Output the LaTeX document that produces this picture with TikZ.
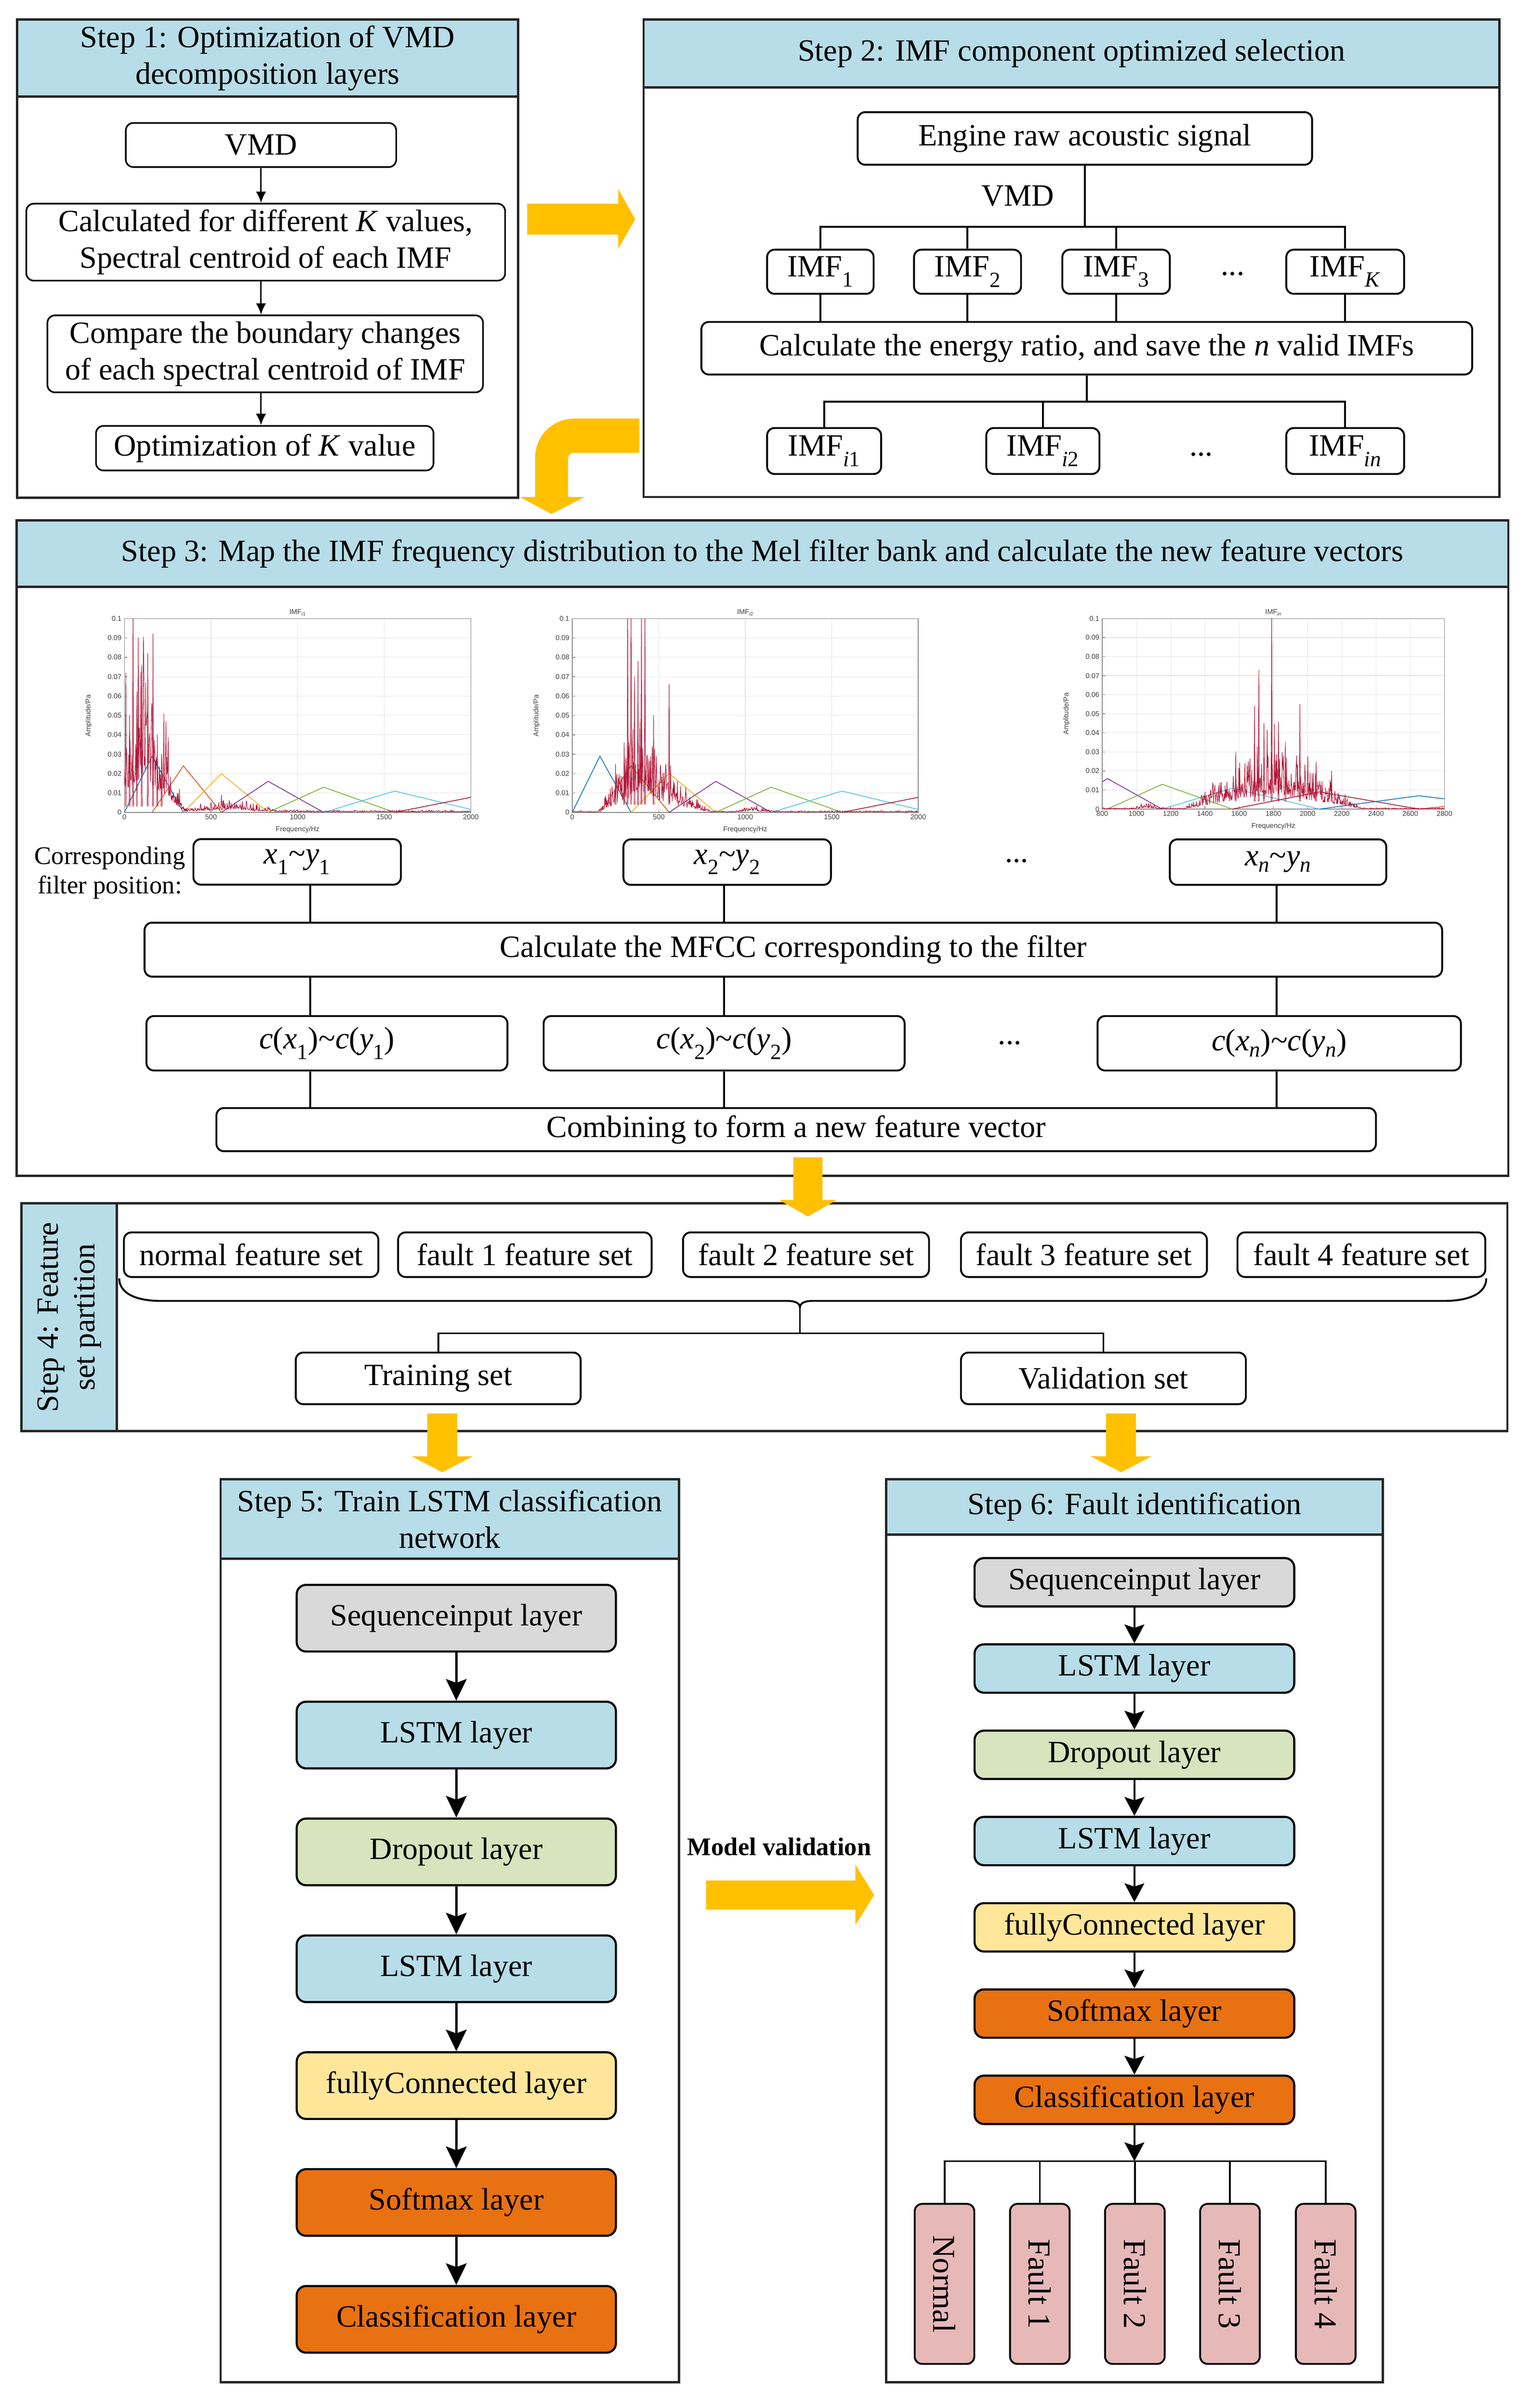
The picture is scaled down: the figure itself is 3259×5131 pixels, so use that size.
\documentclass[tikz,border=0pt]{standalone}
\usepackage{fontspec}
\setmainfont{Liberation Serif}
\newfontfamily\plotfont{Liberation Sans}
\usetikzlibrary{arrows.meta}
\definecolor{hdrblue}{RGB}{183,221,232}
\definecolor{seqgray}{RGB}{217,217,217}
\definecolor{dropgreen}{RGB}{215,228,189}
\definecolor{fcyellow}{RGB}{255,230,153}
\definecolor{smorange}{RGB}{232,113,18}
\definecolor{faultpink}{RGB}{230,185,184}
\definecolor{arrowyellow}{RGB}{255,192,0}
\definecolor{mlA}{rgb}{0,0.447,0.741}
\definecolor{mlB}{rgb}{0.85,0.325,0.098}
\definecolor{mlC}{rgb}{0.929,0.694,0.125}
\definecolor{mlD}{rgb}{0.494,0.184,0.556}
\definecolor{mlE}{rgb}{0.466,0.674,0.188}
\definecolor{mlF}{rgb}{0.301,0.745,0.933}
\definecolor{mlG}{rgb}{0.635,0.078,0.184}
\definecolor{specred}{RGB}{178,24,58}
\newcommand\fsmain{\fontsize{66}{78}\selectfont}
\newcommand\fssmall{\fontsize{54}{63}\selectfont}
\newcommand\fsbold{\fontsize{54}{63}\selectfont\bfseries}
\newcommand\fsfault{\fontsize{68}{80}\selectfont}
\newcommand\fstick{\plotfont\fontsize{15}{17}\selectfont}
\newcommand\mysub[1]{\textsubscript{#1}}
\tikzset{
  stepframe/.style={draw=black!85, line width=5pt, fill=white},
  hdr/.style={draw=black!85, line width=5pt, fill=hdrblue, inner sep=0pt, align=center, font=\fsmain},
  boxS/.style={draw=black, line width=4pt, rounded corners=16pt, fill=white, inner sep=0pt, align=center, font=\fsmain},
  layerbox/.style={boxS, line width=4.5pt, rounded corners=20pt},
  faultbox/.style={boxS, fill=faultpink, font=\fsfault, rotate=-90, minimum width=341pt, minimum height=127pt},
  plaintext/.style={inner sep=0pt, align=center, font=\fsmain},
  conn/.style={draw=black, line width=4pt},
  smallarr/.style={draw=black, line width=3pt, -{Latex[length=24pt,width=22pt]}},
  bigarr/.style={draw=black, line width=5pt, -{Stealth[length=46pt,width=44pt,inset=8pt]}},
  midarr/.style={draw=black, line width=4.5pt, -{Stealth[length=40pt,width=42pt,inset=7pt]}},
  yarrow/.style={fill=arrowyellow, draw=none},
  gridl/.style={draw=black!10, line width=1.2pt},
  axisl/.style={draw=black!45, line width=1.5pt},
  ticklab/.style={font=\fstick, text=black!75, inner sep=1pt},
  fl/.style={line width=1.6pt},
  spec/.style={draw=specred, line width=1.1pt, line join=round},
}
\newcommand\drawplot[8]{%
  \pgfmathsetmacro\pxs{(#2-#1)/(#6-#5)}%
  \foreach \k in {1,...,9}{%
    \pgfmathsetmacro\yy{#4-(#4-#3)*\k/10}%
    \draw[gridl] (#1,\yy) -- (#2,\yy);
  }%
  \foreach \f in {#7}{%
    \pgfmathsetmacro\xx{#1+(\f-#5)*\pxs}%
    \draw[gridl] (\xx,#3) -- (\xx,#4);
    \draw[axisl] (\xx,#4) -- (\xx,#4-6);
    \node[ticklab, anchor=north] at (\xx,#4+3) {\f};
  }%
  \foreach \k in {0,...,10}{%
    \pgfmathsetmacro\yy{#4-(#4-#3)*\k/10}%
    \draw[axisl] (#1,\yy) -- (#1+6,\yy);
    \node[ticklab, anchor=east] at (#1-5,\yy) {\ifnum\k=0 0\else\ifnum\k=10 0.1\else 0.0\k\fi\fi};
  }%
  \draw[axisl] (#1,#3) rectangle (#2,#4);
  \node[ticklab] at ({(#1+#2)/2},#3-13) {#8};
  \node[ticklab] at ({(#1+#2)/2},#4+37) {Frequency/Hz};
  \node[ticklab, rotate=90] at (#1-76,{(#3+#4)/2}) {Amplitude/Pa};
}
\begin{document}
\begin{tikzpicture}[x=1pt,y=-1pt]
\useasboundingbox (0,0) rectangle (3259,5131);
\fill[white] (0,0) rectangle (3259,5131);

% ---------------- Step 1
\draw[stepframe] (36,42) rectangle (1104,1061);
\node[hdr, minimum width=1068pt, minimum height=164pt] (h1) at (570,124) {Step 1: Optimization of VMD\\decomposition layers};
\node[boxS, line width=3.5pt, minimum width=576pt, minimum height=94pt] (vmd1) at (556,309) {VMD};
\node[boxS, line width=3.5pt, minimum width=1020pt, minimum height=164pt] (calc1) at (566,516) {Calculated for different \textit{K} values,\\Spectral centroid of each IMF};
\node[boxS, line width=3.5pt, minimum width=928pt, minimum height=164pt] (comp1) at (565,754) {Compare the boundary changes\\of each spectral centroid of IMF};
\node[boxS, line width=3.5pt, minimum width=719pt, minimum height=95pt] (optk) at (564,955) {Optimization of \textit{K} value};
\draw[smallarr] (vmd1.south) -- (vmd1.south |- calc1.north);
\draw[smallarr] (vmd1.south |- calc1.south) -- (vmd1.south |- comp1.north);
\draw[smallarr] (vmd1.south |- comp1.south) -- (vmd1.south |- optk.north);

% ---------------- Step 2
\draw[stepframe] (1371,42) rectangle (3194,1059);
\node[hdr, minimum width=1823pt, minimum height=144pt] (h2) at (2282.5,114) {Step 2: IMF component optimized selection};
\node[boxS, minimum width=968pt, minimum height=112pt] (engine) at (2311,295) {Engine raw acoustic signal};
\node[plaintext] (vmdlab) at (2168,418) {VMD};
\node[boxS, minimum width=227pt, minimum height=94pt] (imf1) at (1747.5,579) {IMF\mysub{1}};
\node[boxS, minimum width=228pt, minimum height=94pt] (imf2) at (2061,579) {IMF\mysub{2}};
\node[boxS, minimum width=229pt, minimum height=94pt] (imf3) at (2377.5,579) {IMF\mysub{3}};
\node[plaintext] (dotsA) at (2626,583) {...};
\node[boxS, minimum width=251pt, minimum height=94pt] (imfK) at (2865.5,579) {IMF\mysub{\textit{K}}};
\node[boxS, minimum width=1642pt, minimum height=112pt] (calcE) at (2315,742) {Calculate the energy ratio, and save the \textit{n} valid IMFs};
\node[boxS, minimum width=243pt, minimum height=98pt] (imfi1) at (1755.5,961) {IMF\mysub{\textit{i}1}};
\node[boxS, minimum width=241pt, minimum height=98pt] (imfi2) at (2221.5,961) {IMF\mysub{\textit{i}2}};
\node[plaintext] (dotsB) at (2559,968) {...};
\node[boxS, minimum width=251pt, minimum height=98pt] (imfin) at (2865.5,961) {IMF\mysub{\textit{in}}};
\coordinate (busA) at (2311,483);
\draw[conn] (engine.south) -- (busA);
\draw[conn] (imf1.north) |- (busA) -| (imfK.north);
\draw[conn] (imf2.north) -- (imf2.north |- busA);
\draw[conn] (imf3.north) -- (imf3.north |- busA);
\foreach \n in {imf1,imf2,imf3,imfK} \draw[conn] (\n.south) -- (\n.south |- calcE.north);
\coordinate (busB) at (2315,856);
\draw[conn] (calcE.south) -- (busB);
\draw[conn] (imfi1.north) |- (busB) -| (imfin.north);
\draw[conn] (imfi2.north) -- (imfi2.north |- busB);

% ---------------- Step 3
\draw[stepframe] (35,1109) rectangle (3213,2505);
\node[hdr, minimum width=3178pt, minimum height=141pt] (h3) at (1624,1179.5) {Step 3: Map the IMF frequency distribution to the Mel filter bank and calculate the new feature vectors};

% plot 1
\drawplot{265}{1003}{1318}{1731}{0}{2000}{0,500,1000,1500,2000}{IMF\textsubscript{\textit{i}1}}
\begin{scope}
  \clip (265,1318) rectangle (1003,1731);
  \begin{scope}[shift={(265,1731)}, xscale=0.369, yscale=-4130]
    \draw[mlA, fl] (0,0) -- (160,0.029) -- (340,0);
    \draw[mlB, fl] (160,0) -- (340,0.024) -- (560,0);
    \draw[mlC, fl] (340,0) -- (560,0.020) -- (830,0);
    \draw[mlD, fl] (560,0) -- (830,0.016) -- (1150,0);
    \draw[mlE, fl] (830,0) -- (1150,0.013) -- (1560,0);
    \draw[mlF, fl] (1150,0) -- (1560,0.011) -- (2070,0);
    \draw[mlG, fl] (1560,0) -- (2070,0.009) -- (2650,0);
    \pgfmathsetseed{11}
    \draw[spec] plot[domain=0:2000, samples=800] (\x, {min(0.1,(0.06*max(0,1-abs(\x-110)/240)+0.004*max(0,1-abs(\x-600)/300)+0.0008)*(0.3+1.5*rnd*rnd))});
    \foreach \f/\a in {8/0.072, 30/0.05, 50/0.11, 72/0.055, 100/0.076, 135/0.082, 165/0.092, 190/0.04, 215/0.03, 560/0.009}
      \draw[spec] (\f-3,0.003) -- (\f,\a) -- (\f+3,0.003);
  \end{scope}
\end{scope}

% plot 2
\drawplot{1219}{1956}{1318}{1731}{0}{2000}{0,500,1000,1500,2000}{IMF\textsubscript{\textit{i}2}}
\begin{scope}
  \clip (1219,1318) rectangle (1956,1731);
  \begin{scope}[shift={(1219,1731)}, xscale=0.3685, yscale=-4130]
    \draw[mlA, fl] (0,0) -- (160,0.029) -- (340,0);
    \draw[mlB, fl] (160,0) -- (340,0.024) -- (560,0);
    \draw[mlC, fl] (340,0) -- (560,0.020) -- (830,0);
    \draw[mlD, fl] (560,0) -- (830,0.016) -- (1150,0);
    \draw[mlE, fl] (830,0) -- (1150,0.013) -- (1560,0);
    \draw[mlF, fl] (1150,0) -- (1560,0.011) -- (2070,0);
    \draw[mlG, fl] (1560,0) -- (2070,0.009) -- (2650,0);
    \pgfmathsetseed{23}
    \draw[spec] plot[domain=0:2000, samples=800] (\x, {min(0.1,(0.035*max(0,1-abs(\x-400)/250)+0.008*max(0,1-abs(\x-650)/150)+0.002*max(0,1-abs(\x-1050)/120)+0.0006)*(0.3+1.5*rnd*rnd))});
    \foreach \f/\a in {250/0.025, 300/0.036, 320/0.11, 340/0.11, 360/0.07, 380/0.078, 400/0.11, 420/0.11, 470/0.05, 560/0.066}
      \draw[spec] (\f-3,0.004) -- (\f,\a) -- (\f+3,0.004);
  \end{scope}
\end{scope}

% plot 3
\drawplot{2348}{3077}{1318}{1724}{800}{2800}{800,1000,1200,1400,1600,1800,2000,2200,2400,2600,2800}{IMF\textsubscript{\textit{in}}}
\begin{scope}
  \clip (2348,1318) rectangle (3077,1724);
  \begin{scope}[shift={(2056.4,1724)}, xscale=0.3645, yscale=-4060]
    \draw[mlD, fl] (560,0) -- (830,0.016) -- (1150,0);
    \draw[mlE, fl] (830,0) -- (1150,0.013) -- (1560,0);
    \draw[mlF, fl] (1150,0) -- (1560,0.011) -- (2070,0);
    \draw[mlG, fl] (1560,0) -- (2070,0.009) -- (2650,0);
    \draw[mlA, fl] (2070,0) -- (2650,0.007) -- (3300,0);
    \draw[mlB, fl] (2650,0) -- (3300,0.006) -- (3900,0);
    \pgfmathsetseed{37}
    \draw[spec] plot[domain=800:2800, samples=800] (\x, {min(0.1,(0.026*max(0,1-abs(\x-1800)/520)+0.002*max(0,1-abs(\x-1060)/80)+0.0005)*(0.3+1.5*rnd*rnd))});
    \foreach \f/\a in {1580/0.03, 1690/0.054, 1715/0.073, 1745/0.045, 1790/0.11, 1830/0.046, 1870/0.035, 1955/0.055, 2050/0.025, 2140/0.02}
      \draw[spec] (\f-3,0.004) -- (\f,\a) -- (\f+3,0.004);
  \end{scope}
\end{scope}

\node[plaintext, font=\fssmall] (corr) at (234,1860) {Corresponding\\filter position:};
\node[boxS, minimum width=442pt, minimum height=97pt] (xy1) at (633,1836.5) {\textit{x}\mysub{1}\textasciitilde\textit{y}\mysub{1}};
\node[boxS, minimum width=442pt, minimum height=97pt] (xy2) at (1549,1837) {\textit{x}\mysub{2}\textasciitilde\textit{y}\mysub{2}};
\node[plaintext] (dotsC) at (2166,1834) {...};
\node[boxS, minimum width=461pt, minimum height=97pt] (xyn) at (2722.5,1837) {\textit{x}\mysub{\textit{n}}\textasciitilde\textit{y}\mysub{\textit{n}}};
\node[boxS, minimum width=2764pt, minimum height=115pt] (mfcc) at (1690,2023.5) {Calculate the MFCC corresponding to the filter};
\node[boxS, minimum width=769pt, minimum height=116pt] (c1) at (696.5,2223) {\textit{c}(\textit{x}\mysub{1})\textasciitilde\textit{c}(\textit{y}\mysub{1})};
\node[boxS, minimum width=769pt, minimum height=116pt] (c2) at (1542.5,2223) {\textit{c}(\textit{x}\mysub{2})\textasciitilde\textit{c}(\textit{y}\mysub{2})};
\node[plaintext] (dotsD) at (2151,2222) {...};
\node[boxS, minimum width=774pt, minimum height=116pt] (cn) at (2725,2223) {\textit{c}(\textit{x}\mysub{\textit{n}})\textasciitilde\textit{c}(\textit{y}\mysub{\textit{n}})};
\node[boxS, minimum width=2470pt, minimum height=92pt] (comb) at (1696,2407) {Combining to form a new feature vector};
\coordinate (lx1) at (661,0);
\coordinate (lx2) at (1542,0);
\coordinate (lx3) at (2719,0);
\draw[conn] (xy1.south -| lx1) -- (mfcc.north -| lx1);
\draw[conn] (xy2.south -| lx2) -- (mfcc.north -| lx2);
\draw[conn] (xyn.south -| lx3) -- (mfcc.north -| lx3);
\draw[conn] (mfcc.south -| lx1) -- (c1.north -| lx1);
\draw[conn] (mfcc.south -| lx2) -- (c2.north -| lx2);
\draw[conn] (mfcc.south -| lx3) -- (cn.north -| lx3);
\draw[conn] (c1.south -| lx1) -- (comb.north -| lx1);
\draw[conn] (c2.south -| lx2) -- (comb.north -| lx2);
\draw[conn] (cn.south -| lx3) -- (comb.north -| lx3);

% ---------------- Step 4
\draw[stepframe] (46,2564) rectangle (3211,3049);
\node[hdr, rotate=90, minimum width=485pt, minimum height=203pt] (h4) at (147.5,2806.5) {Step 4: Feature\\set partition};
\node[boxS, minimum width=542pt, minimum height=95pt] (fsN) at (535,2673.5) {normal feature set};
\node[boxS, minimum width=540pt, minimum height=95pt] (fs1) at (1118,2673.5) {fault 1 feature set};
\node[boxS, minimum width=524pt, minimum height=95pt] (fs2) at (1717,2673.5) {fault 2 feature set};
\node[boxS, minimum width=524pt, minimum height=95pt] (fs3) at (2309,2673.5) {fault 3 feature set};
\node[boxS, minimum width=528pt, minimum height=95pt] (fs4) at (2900,2673.5) {fault 4 feature set};
\coordinate (brL) at (254,2724);
\coordinate (brR) at (3166,2724);
\coordinate (brC) at (1704,2786);
\draw[conn] (brL) .. controls (254,2756) and (290,2772) .. (343,2772) -- (1678,2772) .. controls (1696,2772) and (1704,2778) .. (brC);
\draw[conn] (brR) .. controls (3166,2756) and (3130,2772) .. (3076,2772) -- (1730,2772) .. controls (1712,2772) and (1704,2778) .. (brC);
\node[boxS, minimum width=607pt, minimum height=110pt] (train) at (933.5,2937) {Training set};
\node[boxS, minimum width=607pt, minimum height=110pt] (valid) at (2350.5,2937) {Validation set};
\coordinate (busC) at (1704,2841);
\draw[conn] (brC) -- (busC);
\draw[conn] (train.north) |- (busC) -| (valid.north);

% ---------------- Step 5
\draw[stepframe] (470,3152) rectangle (1446,5076);
\node[hdr, minimum width=976pt, minimum height=169pt] (h5) at (958,3236.5) {Step 5: Train LSTM classification\\network};
\node[layerbox, fill=seqgray, minimum width=680pt, minimum height=142pt] (a1) at (972,3448) {Sequenceinput layer};
\node[layerbox, fill=hdrblue, minimum width=680pt, minimum height=142pt] (a2) at (972,3697) {LSTM layer};
\node[layerbox, fill=dropgreen, minimum width=680pt, minimum height=142pt] (a3) at (972,3946) {Dropout layer};
\node[layerbox, fill=hdrblue, minimum width=680pt, minimum height=142pt] (a4) at (972,4195) {LSTM layer};
\node[layerbox, fill=fcyellow, minimum width=680pt, minimum height=142pt] (a5) at (972,4444) {fullyConnected layer};
\node[layerbox, fill=smorange, minimum width=680pt, minimum height=142pt] (a6) at (972,4693) {Softmax layer};
\node[layerbox, fill=smorange, minimum width=680pt, minimum height=142pt] (a7) at (972,4942) {Classification layer};
\foreach \i/\j in {a1/a2,a2/a3,a3/a4,a4/a5,a5/a6,a6/a7} \draw[bigarr] (\i.south) -- (\j.north);

% ---------------- Step 6
\draw[stepframe] (1888,3152) rectangle (2946,5076);
\node[hdr, minimum width=1058pt, minimum height=118pt] (h6) at (2417,3211) {Step 6: Fault identification};
\node[layerbox, fill=seqgray, minimum width=681pt, minimum height=103pt] (b1) at (2416.5,3371.5) {Sequenceinput layer};
\node[layerbox, fill=hdrblue, minimum width=681pt, minimum height=103pt] (b2) at (2416.5,3555.3) {LSTM layer};
\node[layerbox, fill=dropgreen, minimum width=681pt, minimum height=103pt] (b3) at (2416.5,3739.1) {Dropout layer};
\node[layerbox, fill=hdrblue, minimum width=681pt, minimum height=103pt] (b4) at (2416.5,3922.9) {LSTM layer};
\node[layerbox, fill=fcyellow, minimum width=681pt, minimum height=103pt] (b5) at (2416.5,4106.7) {fullyConnected layer};
\node[layerbox, fill=smorange, minimum width=681pt, minimum height=103pt] (b6) at (2416.5,4290.5) {Softmax layer};
\node[layerbox, fill=smorange, minimum width=681pt, minimum height=103pt] (b7) at (2416.5,4474.3) {Classification layer};
\foreach \i/\j in {b1/b2,b2/b3,b3/b4,b4/b5,b5/b6,b6/b7} \draw[midarr] (\i.south) -- (\j.north);
\node[faultbox] (fN) at (2012,4866.5) {Normal};
\node[faultbox] (fA) at (2215,4866.5) {Fault 1};
\node[faultbox] (fB) at (2417.5,4866.5) {Fault 2};
\node[faultbox] (fC) at (2620,4866.5) {Fault 3};
\node[faultbox] (fD) at (2824,4866.5) {Fault 4};
\coordinate (busD) at (2417.5,4605);
\draw[conn] (fN.west) |- (busD) -| (fD.west);
\draw[conn] (fA.west) -- (fA.west |- busD);
\draw[conn] (fB.west) -- (fB.west |- busD);
\draw[conn] (fC.west) -- (fC.west |- busD);
\draw[midarr] (b7.south) -- (b7.south |- busD);

% ---------------- model validation
\node[plaintext, font=\fsbold] (mv) at (1660,3935) {Model validation};

% ---------------- yellow block arrows
\fill[yarrow] (1123,434) -- (1317,434) -- (1317,403) -- (1353,467) -- (1317,530) -- (1317,500) -- (1123,500) -- cycle;
\fill[yarrow] (1362,892) -- (1223,892) .. controls (1177,892) and (1140,929) .. (1140,975) -- (1140,1059) -- (1107,1059) -- (1175,1095) -- (1245,1059) -- (1210,1059) -- (1210,980) .. controls (1210,970) and (1214,965) .. (1222,965) -- (1362,965) -- cycle;
\fill[yarrow] (1690,2466) -- (1752,2466) -- (1752,2557) -- (1782,2557) -- (1721,2592) -- (1660,2557) -- (1690,2557) -- cycle;
\fill[yarrow] (910,3012) -- (974,3012) -- (974,3103) -- (1007,3103) -- (942,3137) -- (877,3103) -- (910,3103) -- cycle;
\fill[yarrow] (2356,3012) -- (2420,3012) -- (2420,3103) -- (2453,3103) -- (2388,3137) -- (2323,3103) -- (2356,3103) -- cycle;
\fill[yarrow] (1504,4007) -- (1822,4007) -- (1822,3973) -- (1862,4038) -- (1822,4102) -- (1822,4069) -- (1504,4069) -- cycle;
\end{tikzpicture}
\end{document}
